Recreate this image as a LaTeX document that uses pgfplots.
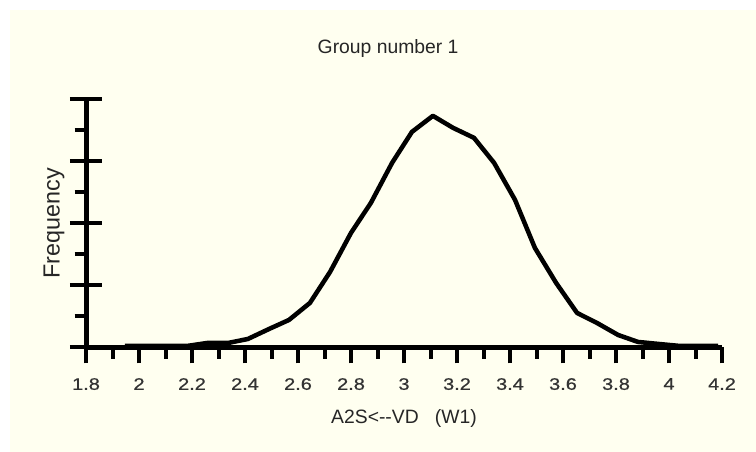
\documentclass[border=0pt]{standalone}
\usepackage{fontspec}
\setmainfont{Liberation Sans}
\newfontfamily\tickfont[FakeStretch=1.2, FakeBold=0.6]{Liberation Sans}
\usepackage{pgfplots}
\pgfplotsset{compat=1.18}
\definecolor{bgivory}{RGB}{255,255,240}

\begin{document}
\begin{tikzpicture}
% page: 756 x 452 px at 0.75pt per px
\fill[white] (0pt,0pt) rectangle (567pt,-339pt);
\fill[bgivory] (7.5pt,-7.5pt) rectangle (567pt,-339pt);
\begin{axis}[
    at={(64.5pt,-260.6pt)}, anchor=south west,
    scale only axis, width=477pt, height=186.4pt,
    xmin=1.8, xmax=4.2, ymin=0, ymax=4,
    axis lines=left,
    axis line style={-, line width=3.75pt, black},
    xtick={1.8,2,2.2,2.4,2.6,2.8,3,3.2,3.4,3.6,3.8,4,4.2},
    xticklabels={1.8,2,2.2,2.4,2.6,2.8,3,3.2,3.4,3.6,3.8,4,4.2},
    minor x tick num=1,
    ytick={0,1,2,3,4}, yticklabels={},
    minor y tick num=1,
    extra y ticks={0,1,2,3,4}, extra y tick labels={},
    extra y tick style={tick align=inside},
    tick align=outside,
    major tick length=12pt, minor tick length=8.5pt,
    tick style={line width=3pt, black},
    xticklabel style={font=\tickfont\fontsize{12.5}{13}\selectfont, text=black!80, yshift=-7.5pt},
    clip=false,
  ]
  \addplot[black, line width=3.4pt, line join=round] coordinates {
    (1.947,0.024) (2.026,0.024) (2.102,0.024) (2.181,0.024) (2.257,0.072)
    (2.336,0.072) (2.411,0.137) (2.491,0.298) (2.566,0.443) (2.645,0.717)
    (2.721,1.216) (2.800,1.844) (2.875,2.327) (2.955,2.971) (3.030,3.470)
    (3.109,3.728) (3.185,3.535) (3.264,3.374) (3.340,2.971) (3.419,2.375)
    (3.494,1.602) (3.574,1.039) (3.653,0.556) (3.728,0.395) (3.808,0.201)
    (3.883,0.089) (3.962,0.056) (4.042,0.024) (4.117,0.024) (4.185,0.024)
  };
  \node[font=\fontsize{14.5}{17}\selectfont, text=black!85] at ([yshift=38pt]rel axis cs:0.475,1) {Group number 1};
  \node[font=\fontsize{14.5}{17}\selectfont, text=black!85] at ([yshift=-53pt]rel axis cs:0.5,0) {A2S<-{}-VD\ \ \ (W1)};
  \node[font=\fontsize{17.5}{20}\selectfont, text=black!85, rotate=90] at ([xshift=-24pt]rel axis cs:0,0.5) {Frequency};
\end{axis}
\end{tikzpicture}
\end{document}
